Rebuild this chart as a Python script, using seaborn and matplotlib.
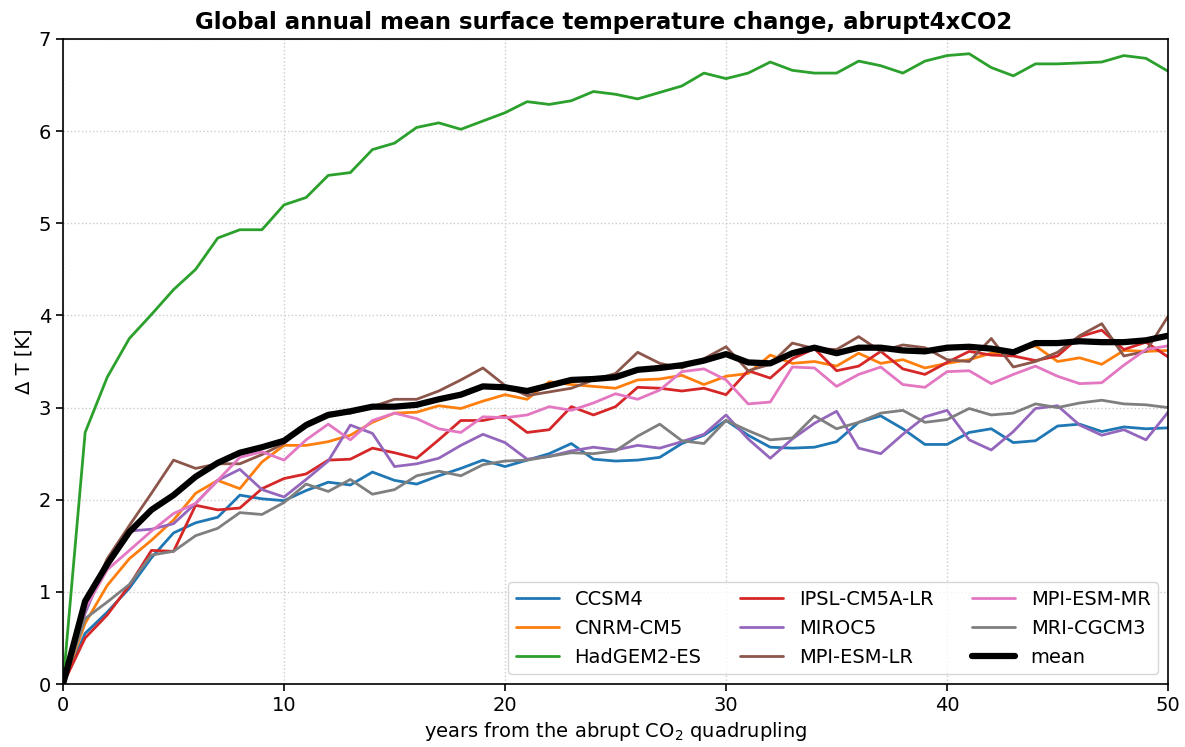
import numpy as np
import pandas as pd
import matplotlib
matplotlib.use("Agg")
import matplotlib.pyplot as plt
import seaborn as sns

years = list(range(0, 51))

models = ["CCSM4", "CNRM-CM5", "HadGEM2-ES", "IPSL-CM5A-LR", "MIROC5",
          "MPI-ESM-LR", "MPI-ESM-MR", "MRI-CGCM3"]
colors = ["#1f77b4", "#ff7f0e", "#2ca02c", "#d62728", "#9467bd",
          "#8c564b", "#e377c2", "#7f7f7f"]

ccsm4 = [0.0, 0.55, 0.78, 1.04, 1.37, 1.64, 1.75, 1.81, 2.05, 2.01, 1.99,
         2.10, 2.19, 2.16, 2.30, 2.21, 2.17, 2.26, 2.34, 2.43, 2.36,
         2.43, 2.50, 2.61, 2.44, 2.42, 2.43, 2.46, 2.61, 2.70, 2.86,
         2.70, 2.57, 2.56, 2.57, 2.63, 2.84, 2.91, 2.77, 2.60, 2.60,
         2.73, 2.77, 2.62, 2.64, 2.80, 2.82, 2.74, 2.79, 2.77, 2.78]
cnrm = [0.0, 0.66, 1.07, 1.36, 1.56, 1.78, 2.07, 2.21, 2.12, 2.41, 2.59,
        2.59, 2.63, 2.70, 2.84, 2.94, 2.95, 3.02, 2.99, 3.07, 3.14,
        3.09, 3.28, 3.25, 3.23, 3.21, 3.30, 3.31, 3.35, 3.25, 3.34,
        3.37, 3.57, 3.48, 3.50, 3.45, 3.59, 3.48, 3.52, 3.43, 3.48,
        3.52, 3.59, 3.61, 3.67, 3.50, 3.54, 3.47, 3.62, 3.61, 3.62]
hadgem = [0.0, 2.73, 3.33, 3.75, 4.01, 4.28, 4.50, 4.84, 4.93, 4.93, 5.20,
          5.28, 5.52, 5.55, 5.80, 5.87, 6.04, 6.09, 6.02, 6.11, 6.20,
          6.32, 6.29, 6.33, 6.43, 6.40, 6.35, 6.42, 6.49, 6.63, 6.57,
          6.63, 6.75, 6.66, 6.63, 6.63, 6.76, 6.71, 6.63, 6.76, 6.82,
          6.84, 6.69, 6.60, 6.73, 6.73, 6.74, 6.75, 6.82, 6.79, 6.65]
ipsl = [0.0, 0.50, 0.75, 1.07, 1.45, 1.44, 1.94, 1.89, 1.91, 2.12, 2.23,
        2.28, 2.43, 2.44, 2.56, 2.51, 2.45, 2.65, 2.86, 2.86, 2.91,
        2.73, 2.76, 3.01, 2.92, 3.01, 3.22, 3.21, 3.18, 3.21, 3.14,
        3.40, 3.32, 3.53, 3.64, 3.40, 3.45, 3.61, 3.42, 3.36, 3.49,
        3.61, 3.57, 3.56, 3.51, 3.56, 3.77, 3.84, 3.63, 3.71, 3.55]
miroc5 = [0.0, 0.77, 1.33, 1.66, 1.68, 1.74, 1.96, 2.21, 2.33, 2.11, 2.03,
          2.22, 2.42, 2.81, 2.72, 2.36, 2.39, 2.45, 2.59, 2.71, 2.62,
          2.44, 2.47, 2.53, 2.57, 2.54, 2.59, 2.56, 2.63, 2.71, 2.92,
          2.66, 2.45, 2.66, 2.83, 2.96, 2.56, 2.50, 2.71, 2.90, 2.97,
          2.65, 2.54, 2.74, 2.99, 3.02, 2.81, 2.70, 2.76, 2.65, 2.95]
mpi_lr = [0.0, 0.82, 1.36, 1.72, 2.07, 2.43, 2.34, 2.39, 2.39, 2.49, 2.61,
          2.83, 2.94, 2.94, 3.01, 3.09, 3.09, 3.18, 3.30, 3.43, 3.24,
          3.13, 3.17, 3.21, 3.30, 3.37, 3.60, 3.48, 3.43, 3.53, 3.66,
          3.40, 3.47, 3.70, 3.64, 3.63, 3.77, 3.61, 3.68, 3.65, 3.52,
          3.50, 3.75, 3.44, 3.50, 3.60, 3.78, 3.91, 3.56, 3.61, 3.99]
mpi_mr = [0.0, 0.82, 1.24, 1.45, 1.66, 1.85, 1.96, 2.21, 2.46, 2.52, 2.43,
          2.65, 2.82, 2.65, 2.86, 2.94, 2.88, 2.77, 2.73, 2.90, 2.89,
          2.92, 3.01, 2.97, 3.05, 3.15, 3.09, 3.19, 3.39, 3.42, 3.30,
          3.04, 3.06, 3.44, 3.43, 3.23, 3.36, 3.44, 3.25, 3.22, 3.39,
          3.40, 3.26, 3.36, 3.45, 3.34, 3.26, 3.27, 3.46, 3.63, 3.67]
mri = [0.0, 0.71, 0.89, 1.08, 1.40, 1.44, 1.61, 1.69, 1.86, 1.84, 1.97,
       2.17, 2.09, 2.22, 2.06, 2.11, 2.26, 2.31, 2.26, 2.38, 2.42,
       2.43, 2.47, 2.51, 2.50, 2.53, 2.69, 2.82, 2.64, 2.61, 2.86,
       2.75, 2.65, 2.67, 2.91, 2.77, 2.84, 2.94, 2.97, 2.84, 2.87,
       2.99, 2.92, 2.94, 3.04, 3.00, 3.05, 3.08, 3.04, 3.03, 3.00]
mean_vals = [0.0, 0.90, 1.30, 1.65, 1.89, 2.05, 2.25, 2.40, 2.51, 2.57, 2.64,
             2.81, 2.92, 2.96, 3.01, 3.01, 3.03, 3.09, 3.14, 3.23, 3.22,
             3.18, 3.24, 3.30, 3.31, 3.33, 3.41, 3.43, 3.46, 3.51, 3.58,
             3.49, 3.48, 3.59, 3.65, 3.59, 3.65, 3.65, 3.62, 3.61, 3.65,
             3.66, 3.64, 3.60, 3.70, 3.70, 3.72, 3.71, 3.71, 3.73, 3.78]

series = [ccsm4, cnrm, hadgem, ipsl, miroc5, mpi_lr, mpi_mr, mri]

xticks = [0, 10, 20, 30, 40, 50]
yticks = [0, 1, 2, 3, 4, 5, 6, 7]

df = pd.DataFrame({
    "year": np.tile(years, len(models)),
    "dT": np.concatenate([np.asarray(s, dtype=float) for s in series]),
    "model": np.repeat(models, len(years)),
})
df_mean = pd.DataFrame({"year": years, "dT": mean_vals, "model": "mean"})

sns.set_style("ticks")
plt.rcParams["font.family"] = ["DejaVu Sans"]
plt.rcParams["text.color"] = "black"
plt.rcParams["axes.labelcolor"] = "black"
plt.rcParams["xtick.color"] = "black"
plt.rcParams["ytick.color"] = "black"

fig = plt.figure(figsize=(11.85, 7.47), dpi=100)
ax = fig.add_axes([0.0532, 0.0843, 0.9325, 0.8635])

sns.lineplot(data=df, x="year", y="dT", hue="model", hue_order=models,
             palette=dict(zip(models, colors)), linewidth=2.0, ax=ax,
             estimator=None, sort=False)
sns.lineplot(data=df_mean, x="year", y="dT", color="black", linewidth=4.5,
             ax=ax, label="mean", estimator=None, sort=False)

ax.set_xlim(0, 50)
ax.set_ylim(0, 7)
ax.set_xticks(xticks)
ax.set_yticks(yticks)
ax.grid(True, linestyle=":", color="#cccccc", linewidth=1.0)
for sp in ax.spines.values():
    sp.set_visible(True)
    sp.set_color("black")
    sp.set_linewidth(1.2)
ax.tick_params(axis="both", labelsize=14, direction="out", length=5,
               width=1.2, colors="black", labelcolor="black")

ax.set_title("Global annual mean surface temperature change, abrupt4xCO2",
             fontsize=16.5, fontweight="bold", pad=7, color="black", x=0.489)
ax.set_xlabel("years from the abrupt CO$_2$ quadrupling", fontsize=14,
              color="black", labelpad=4)
ax.set_ylabel("Δ T [K]", fontsize=14, color="black")

handles, labels = ax.get_legend_handles_labels()
leg = ax.legend(handles, labels, ncol=3, loc="lower right", fontsize=14,
                frameon=True, fancybox=True, framealpha=0.8,
                borderaxespad=0.5, columnspacing=2.0, handlelength=2.2)
for t in leg.get_texts():
    t.set_color("black")

fig.savefig("out.png", dpi=100)
